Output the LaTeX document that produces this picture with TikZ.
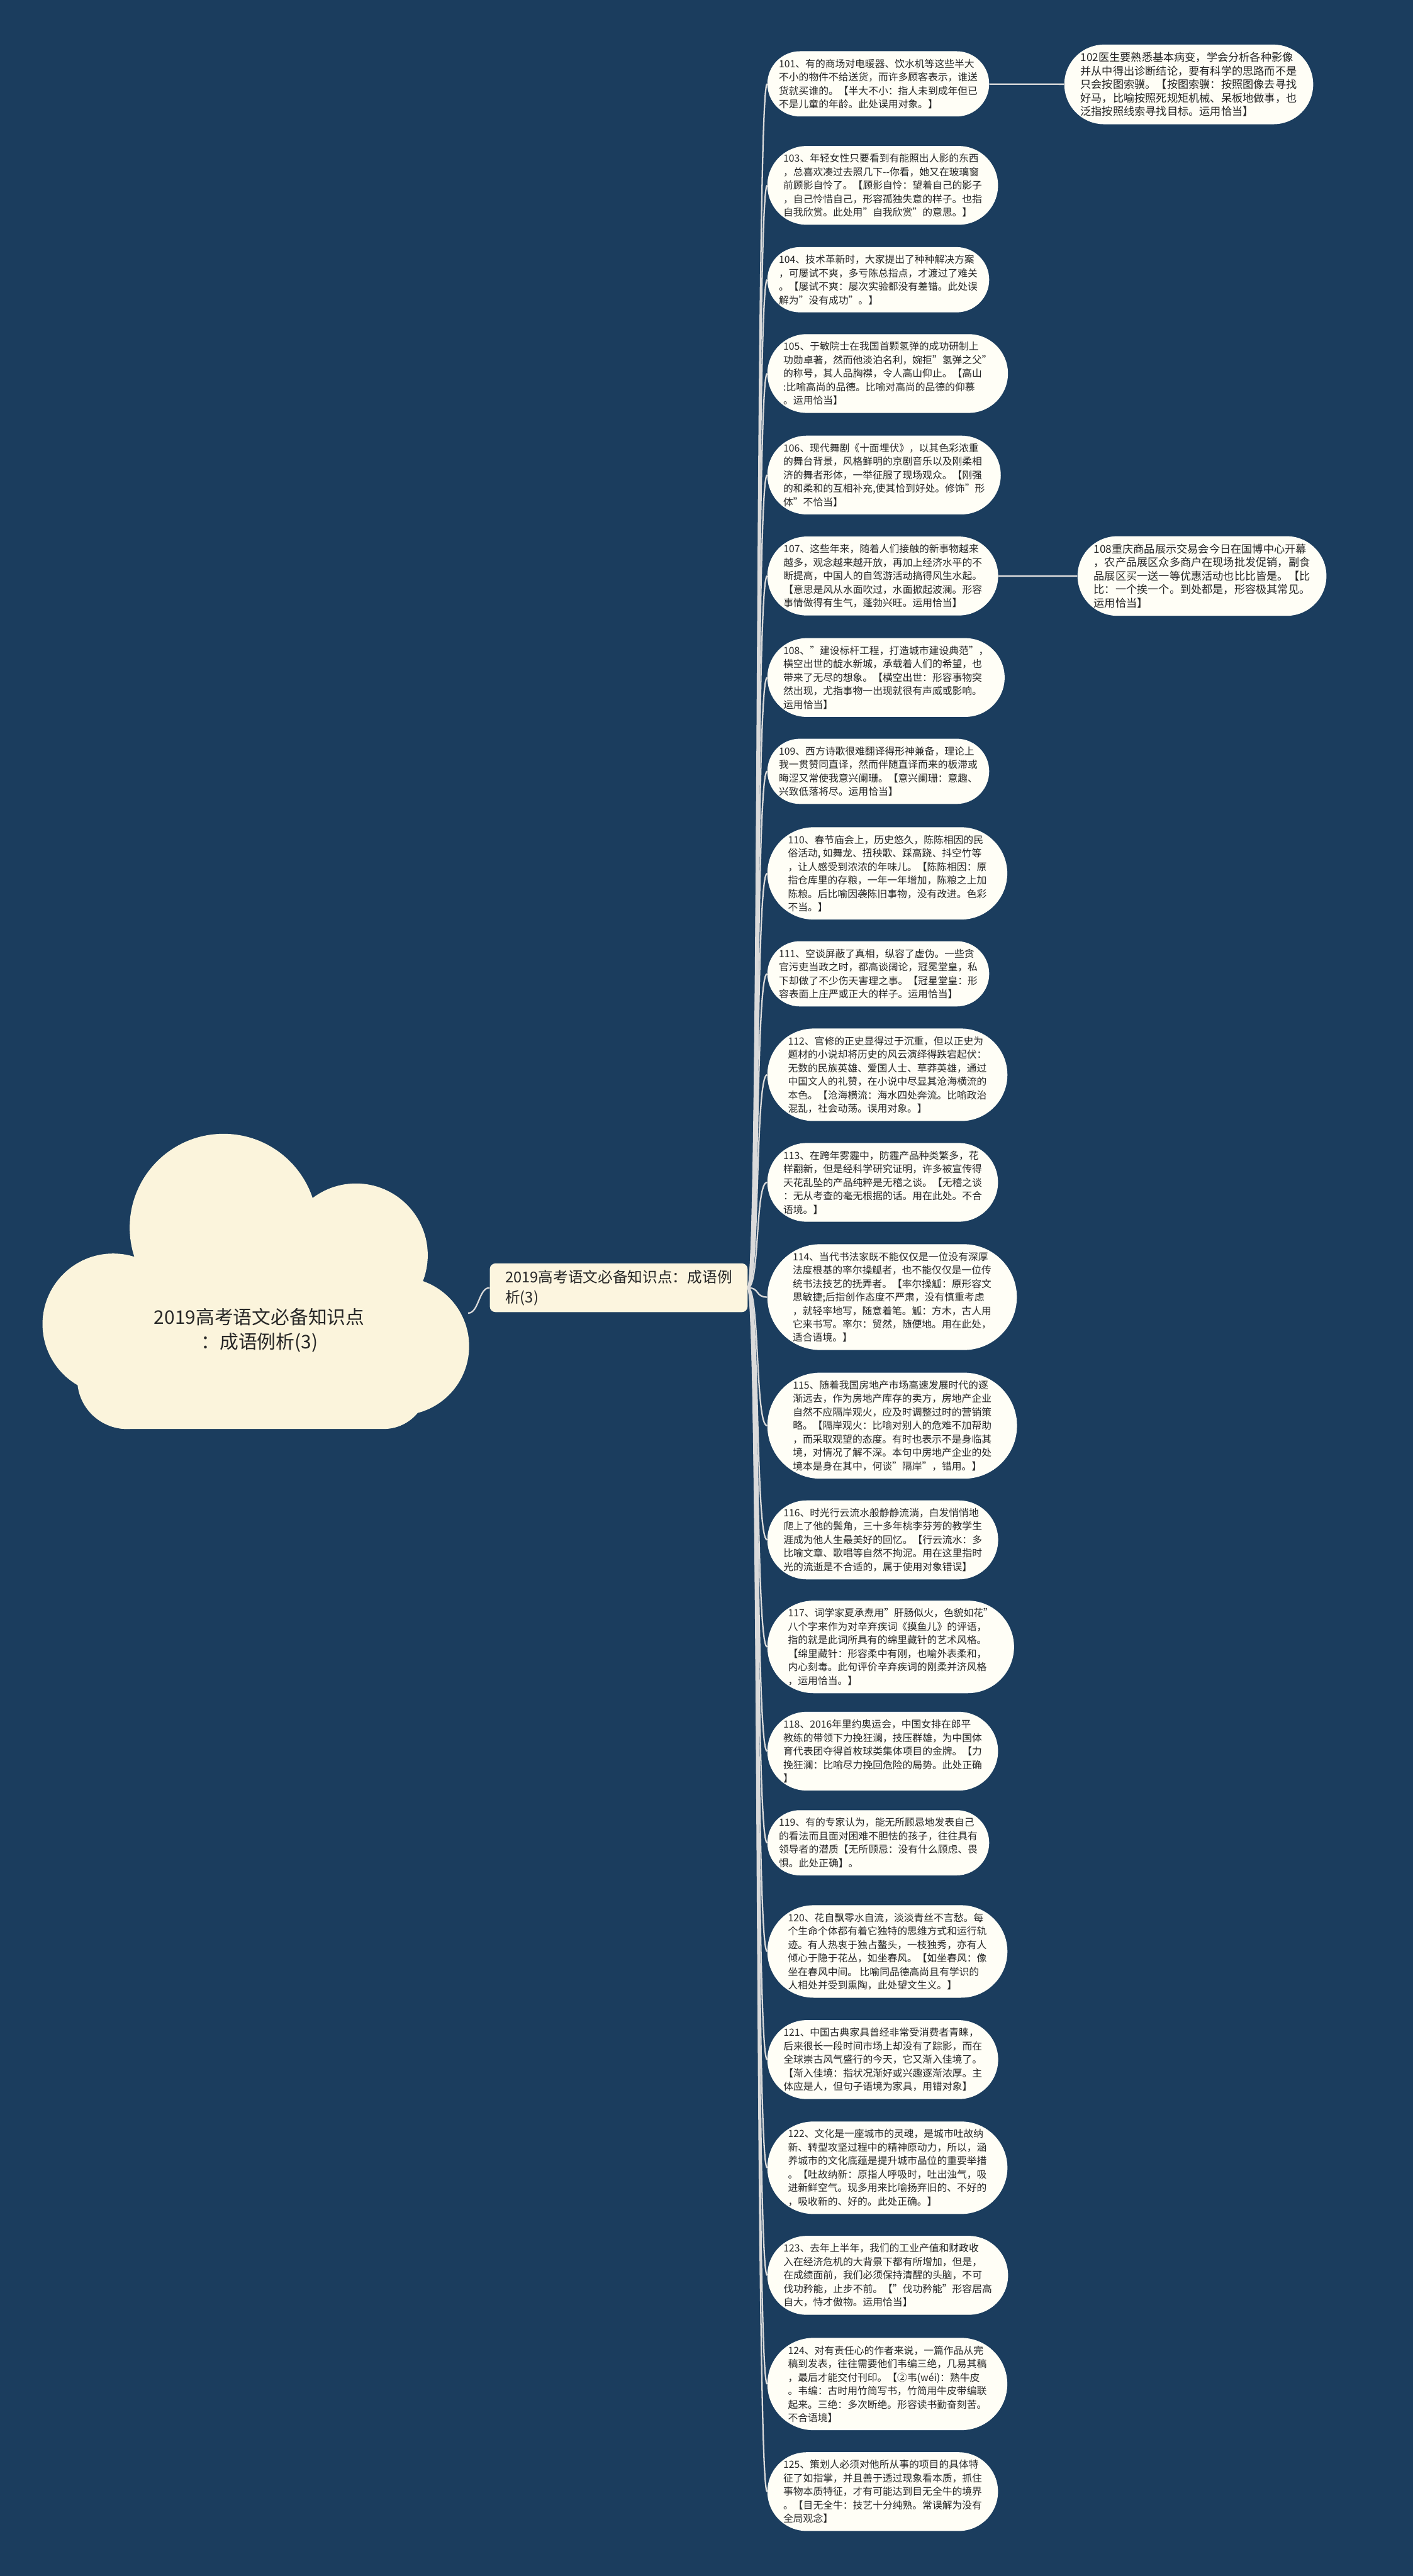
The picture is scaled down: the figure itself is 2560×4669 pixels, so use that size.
\documentclass[tikz,border=0pt]{standalone}
\usepackage{fontspec}
\setmainfont{Noto Sans CJK SC}
\definecolor{bgnavy}{HTML}{1B3D5E}
\definecolor{pill}{HTML}{FFFEF6}
\definecolor{cloudcream}{HTML}{FBF4DC}
\definecolor{hubcream}{HTML}{FCF5DF}
\definecolor{wire}{HTML}{DADADA}
\definecolor{ink}{HTML}{262626}
\usepackage{tikz}
\usetikzlibrary{shapes.misc}

\begin{document}
\begin{tikzpicture}[
  x=0.5pt, y=-0.5pt,
  leaf/.style={rounded rectangle, fill=pill, anchor=west, inner xsep=0pt,
               inner ysep=7pt, align=left, text=ink,
               font=\fontsize{9}{12.25}\selectfont},
  sideleaf/.style={leaf, font=\fontsize{9.8}{12.25}\selectfont},
  hub/.style={rectangle, rounded corners=5pt, fill=hubcream, align=left,
              text=ink, inner xsep=14pt, inner ysep=6pt,
              font=\fontsize{13.5}{18}\selectfont},
  link/.style={draw=wire, line width=1.3pt},
]
\useasboundingbox (0,0) rectangle (2560,4669);
\fill[bgnavy] (0,0) rectangle (2560,4669);

% root cloud
\fill[cloudcream] (205,2400) circle (128) (405,2225) circle (170)
  (645,2275) circle (130) (725,2440) circle (125) (230,2500) circle (90);
\fill[cloudcream, rounded corners=40pt] (150,2300) rectangle (775,2590);
\node[align=center, text=ink, font=\fontsize{17}{22.5}\selectfont] (root) at (470,2411)
  {2019高考语文必备知识点\\：成语例析(3)};
\coordinate (rootout) at (848,2380);

\node[hub] (hub) at (1121,2334) {2019高考语文必备知识点：成语例\\析(3)};

% left column
\node[leaf] (n101) at (1390,152) {101、有的商场对电暖器、饮水机等这些半大\\不小的物件不给送货，而许多顾客表示，谁送\\货就买谁的。【半大不小：指人未到成年但已\\不是儿童的年龄。此处误用对象。】};
\node[leaf] (n103) at (1390,336) {103、年轻女性只要看到有能照出人影的东西\\，总喜欢凑过去照几下-\kern0pt-你看，她又在玻璃窗\\前顾影自怜了。【顾影自怜：望着自己的影子\\，自己怜惜自己，形容孤独失意的样子。也指\\自我欣赏。此处用"自我欣赏"的意思。】};
\node[leaf] (n104) at (1390,507) {104、技术革新时，大家提出了种种解决方案\\，可屡试不爽，多亏陈总指点，才渡过了难关\\。【屡试不爽：屡次实验都没有差错。此处误\\解为"没有成功"。】};
\node[leaf] (n105) at (1390,677) {105、于敏院士在我国首颗氢弹的成功研制上\\功勋卓著，然而他淡泊名利，婉拒"氢弹之父"\\的称号，其人品胸襟，令人高山仰止。【高山\\:比喻高尚的品德。比喻对高尚的品德的仰慕\\。运用恰当】};
\node[leaf] (n106) at (1390,861) {106、现代舞剧《十面埋伏》，以其色彩浓重\\的舞台背景，风格鲜明的京剧音乐以及刚柔相\\济的舞者形体，一举征服了现场观众。【刚强\\的和柔和的互相补充,使其恰到好处。修饰"形\\体"不恰当】};
\node[leaf] (n107) at (1390,1044) {107、这些年来，随着人们接触的新事物越来\\越多，观念越来越开放，再加上经济水平的不\\断提高，中国人的自驾游活动搞得风生水起。\\【意思是风从水面吹过，水面掀起波澜。形容\\事情做得有生气，蓬勃兴旺。运用恰当】};
\node[leaf] (n108) at (1390,1228) {108、"建设标杆工程，打造城市建设典范"，\\横空出世的靛水新城，承载着人们的希望，也\\带来了无尽的想象。【横空出世：形容事物突\\然出现，尤指事物一出现就很有声威或影响。\\运用恰当】};
\node[leaf] (n109) at (1390,1398) {109、西方诗歌很难翻译得形神兼备，理论上\\我一贯赞同直译，然而伴随直译而来的板滞或\\晦涩又常使我意兴阑珊。【意兴阑珊：意趣、\\兴致低落将尽。运用恰当】};
\node[leaf] (n110) at (1390,1583) {110、春节庙会上，历史悠久，陈陈相因的民\\俗活动, 如舞龙、扭秧歌、踩高跷、抖空竹等\\，让人感受到浓浓的年味儿。【陈陈相因：原\\指仓库里的存粮，一年一年增加，陈粮之上加\\陈粮。后比喻因袭陈旧事物，没有改进。色彩\\不当。】};
\node[leaf] (n111) at (1390,1765) {111、空谈屏蔽了真相，纵容了虚伪。一些贪\\官污吏当政之时，都高谈阔论，冠冕堂皇，私\\下却做了不少伤天害理之事。【冠星堂皇：形\\容表面上庄严或正大的样子。运用恰当】};
\node[leaf] (n112) at (1390,1948) {112、官修的正史显得过于沉重，但以正史为\\题材的小说却将历史的风云演绎得跌宕起伏：\\无数的民族英雄、爱国人士、草莽英雄，通过\\中国文人的礼赞，在小说中尽显其沧海横流的\\本色。【沧海横流：海水四处奔流。比喻政治\\混乱，社会动荡。误用对象。】};
\node[leaf] (n113) at (1390,2143) {113、在跨年雾霾中，防霾产品种类繁多，花\\样翻新，但是经科学研究证明，许多被宣传得\\天花乱坠的产品纯粹是无稽之谈。【无稽之谈\\：无从考查的毫无根据的话。用在此处。不合\\语境。】};
\node[leaf] (n114) at (1390,2351) {114、当代书法家既不能仅仅是一位没有深厚\\法度根基的率尔操觚者，也不能仅仅是一位传\\统书法技艺的抚弄者。【率尔操觚：原形容文\\思敏捷;后指创作态度不严肃，没有慎重考虑\\，就轻率地写，随意着笔。觚：方木，古人用\\它来书写。率尔：贸然，随便地。用在此处，\\适合语境。】};
\node[leaf] (n115) at (1390,2584) {115、随着我国房地产市场高速发展时代的逐\\渐远去，作为房地产库存的卖方，房地产企业\\自然不应隔岸观火，应及时调整过时的营销策\\略。【隔岸观火：比喻对别人的危难不加帮助\\，而采取观望的态度。有时也表示不是身临其\\境，对情况了解不深。本句中房地产企业的处\\境本是身在其中，何谈"隔岸"，错用。】};
\node[leaf] (n116) at (1390,2791) {116、时光行云流水般静静流淌，白发悄悄地\\爬上了他的鬓角，三十多年桃李芬芳的教学生\\涯成为他人生最美好的回忆。【行云流水：多\\比喻文章、歌唱等自然不拘泥。用在这里指时\\光的流逝是不合适的，属于使用对象错误】};
\node[leaf] (n117) at (1390,2985) {117、词学家夏承焘用"肝肠似火，色貌如花"\\八个字来作为对辛弃疾词《摸鱼儿》的评语，\\指的就是此词所具有的绵里藏针的艺术风格。\\【绵里藏针：形容柔中有刚，也喻外表柔和，\\内心刻毒。此句评价辛弃疾词的刚柔并济风格\\，运用恰当。】};
\node[leaf] (n118) at (1390,3174) {118、2016年里约奥运会，中国女排在郎平\\教练的带领下力挽狂澜，技压群雄，为中国体\\育代表团夺得首枚球类集体项目的金牌。【力\\挽狂澜：比喻尽力挽回危险的局势。此处正确\\】};
\node[leaf] (n119) at (1390,3340) {119、有的专家认为，能无所顾忌地发表自己\\的看法而且面对困难不胆怯的孩子，往往具有\\领导者的潜质【无所顾忌：没有什么顾虑、畏\\惧。此处正确】。};
\node[leaf] (n120) at (1390,3537) {120、花自飘零水自流，淡淡青丝不言愁。每\\个生命个体都有着它独特的思维方式和运行轨\\迹。有人热衷于独占鳌头，一枝独秀，亦有人\\倾心于隐于花丛，如坐春风。【如坐春风：像\\坐在春风中间。 比喻同品德高尚且有学识的\\人相处并受到熏陶，此处望文生义。】};
\node[leaf] (n121) at (1390,3733) {121、中国古典家具曾经非常受消费者青睐，\\后来很长一段时间市场上却没有了踪影，而在\\全球崇古风气盛行的今天，它又渐入佳境了。\\【渐入佳境：指状况渐好或兴趣逐渐浓厚。主\\体应是人，但句子语境为家具，用错对象】};
\node[leaf] (n122) at (1390,3929) {122、文化是一座城市的灵魂，是城市吐故纳\\新、转型攻坚过程中的精神原动力，所以，涵\\养城市的文化底蕴是提升城市品位的重要举措\\。【吐故纳新：原指人呼吸时，吐出浊气，吸\\进新鲜空气。现多用来比喻扬弃旧的、不好的\\，吸收新的、好的。此处正确。】};
\node[leaf] (n123) at (1390,4124) {123、去年上半年，我们的工业产值和财政收\\入在经济危机的大背景下都有所增加，但是，\\在成绩面前，我们必须保持清醒的头脑，不可\\伐功矜能，止步不前。【"伐功矜能"形容居高\\自大，恃才傲物。运用恰当】};
\node[leaf] (n124) at (1390,4321) {124、对有责任心的作者来说，一篇作品从完\\稿到发表，往往需要他们韦编三绝，几易其稿\\，最后才能交付刊印。【②韦(wéi)：熟牛皮\\。韦编：古时用竹简写书，竹简用牛皮带编联\\起来。三绝：多次断绝。形容读书勤奋刻苦。\\不合语境】};
\node[leaf] (n125) at (1390,4516) {125、策划人必须对他所从事的项目的具体特\\征了如指掌，并且善于透过现象看本质，抓住\\事物本质特征，才有可能达到目无全牛的境界\\。【目无全牛：技艺十分纯熟。常误解为没有\\全局观念】};

% right column
\node[sideleaf] (n102) at (1928,153) {102医生要熟悉基本病变，学会分析各种影像\\并从中得出诊断结论，要有科学的思路而不是\\只会按图索骥。【按图索骥：按照图像去寻找\\好马，比喻按照死规矩机械、呆板地做事，也\\泛指按照线索寻找目标。运用恰当】};
\node[sideleaf] (n108r) at (1952,1044) {108重庆商品展示交易会今日在国博中心开幕\\，农产品展区众多商户在现场批发促销，副食\\品展区买一送一等优惠活动也比比皆是。【比\\比：一个挨一个。到处都是，形容极其常见。\\运用恰当】};

% connectors
\draw[link] (rootout) .. controls +(20,0) and +(-20,0) .. (hub.west);
\foreach \k in {101,103,104,105,106,107,108,109,110,111,112,113,114,115,
                116,117,118,119,120,121,122,123,124,125}
  \draw[link] (hub.east) .. controls +(22,0) and +(-22,0) .. (n\k.west);
\draw[link] (n101) -- (n102);
\draw[link] (n107) -- (n108r);
\end{tikzpicture}
\end{document}
